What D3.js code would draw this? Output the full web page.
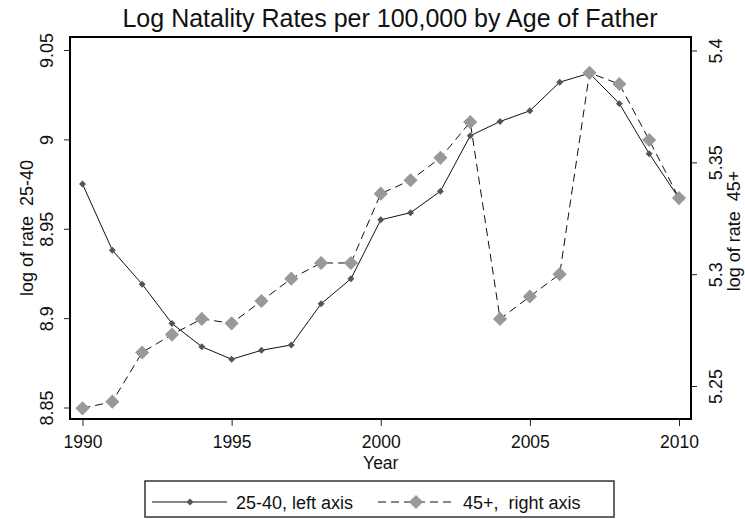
<!DOCTYPE html>
<html>
<head>
<meta charset="utf-8">
<script src="https://cdn.jsdelivr.net/npm/d3@7"></script>
<style>
  html, body { margin: 0; padding: 0; background: #fff; }
  svg { display: block; font-family: "Liberation Sans", Arial, sans-serif; }
  text { white-space: pre; fill: #111; }
</style>
</head>
<body>
<svg id="chart" width="745" height="519"></svg>
<script>
const years = [1990, 1991, 1992, 1993, 1994, 1995, 1996, 1997, 1998, 1999, 2000,
               2001, 2002, 2003, 2004, 2005, 2006, 2007, 2008, 2009, 2010];
const rate2540 = [8.975, 8.938, 8.919, 8.897, 8.884, 8.877, 8.882, 8.885, 8.908, 8.922, 8.955,
                  8.959, 8.971, 9.002, 9.010, 9.016, 9.032, 9.037, 9.020, 8.992, 8.967];
const rate45 = [5.240, 5.243, 5.265, 5.273, 5.280, 5.278, 5.288, 5.298, 5.305, 5.305, 5.336,
                5.342, 5.352, 5.368, 5.280, 5.290, 5.300, 5.390, 5.385, 5.360, 5.334];
const xTicks = [1990, 1995, 2000, 2005, 2010];
const leftTicks = [8.85, 8.9, 8.95, 9, 9.05];
const rightTicks = [5.25, 5.3, 5.35, 5.4];
const titleText = "Log Natality Rates per 100,000 by Age of Father";
const xTitle = "Year";
const leftTitle = "log of rate  25-40";
const rightTitle = "log of rate  45+";
const legendLabels = ["25-40, left axis", "45+,  right axis"];

const svg = d3.select("#chart");
const frame = {left: 70, right: 691, top: 37, bottom: 419};

const x = d3.scaleLinear().domain([1990, 2010]).range([82.5, 679]);
const yL = d3.scaleLinear().domain([8.85, 9.05]).range([407.5, 50]);
const yR = d3.scaleLinear().domain([5.25, 5.4]).range([386, 50.5]);

const fmt = d => String(+d.toFixed(2));

// Title
svg.append("text").attr("x", 390).attr("y", 27).attr("text-anchor", "middle")
  .attr("font-size", 25).text(titleText);

// Frame
svg.append("rect").attr("x", frame.left).attr("y", frame.top)
  .attr("width", frame.right - frame.left).attr("height", frame.bottom - frame.top)
  .attr("fill", "none").attr("stroke", "#000").attr("stroke-width", 2);

// Bottom axis
const gx = svg.append("g").attr("transform", `translate(0,${frame.bottom})`)
  .call(d3.axisBottom(x).tickValues(xTicks).tickFormat(d3.format("d")).tickSize(7).tickSizeOuter(0));
gx.select(".domain").remove();
gx.selectAll("line").attr("stroke", "#222");
gx.selectAll("text").attr("y", 29).attr("dy", null).attr("font-size", 17.5)
  .attr("font-family", null).attr("fill", "#111");

// Left axis
const gl = svg.append("g").attr("transform", `translate(${frame.left},0)`)
  .call(d3.axisLeft(yL).tickValues(leftTicks).tickFormat(fmt).tickSize(6).tickSizeOuter(0));
gl.select(".domain").remove();
gl.selectAll("line").attr("stroke", "#222");
gl.selectAll("text").attr("x", null).attr("dy", null).attr("text-anchor", "middle")
  .attr("transform", "translate(-17.5,0) rotate(-90)").attr("font-size", 18)
  .attr("fill", "#111");

// Right axis
const gr = svg.append("g").attr("transform", `translate(${frame.right},0)`)
  .call(d3.axisRight(yR).tickValues(rightTicks).tickFormat(fmt).tickSize(6).tickSizeOuter(0));
gr.select(".domain").remove();
gr.selectAll("line").attr("stroke", "#222");
gr.selectAll("text").attr("x", null).attr("dy", null).attr("text-anchor", "middle")
  .attr("transform", "translate(31,0) rotate(-90)").attr("font-size", 18)
  .attr("fill", "#111");

svg.selectAll(".tick text").attr("font-family", null);

// Axis titles
svg.append("text").attr("text-anchor", "middle").attr("font-size", 18)
  .attr("transform", `translate(33,${(frame.top + frame.bottom) / 2}) rotate(-90)`).text(leftTitle);
svg.append("text").attr("text-anchor", "middle").attr("font-size", 18)
  .attr("transform", `translate(740,${(frame.top + frame.bottom) / 2 + 3}) rotate(-90)`).text(rightTitle);
svg.append("text").attr("x", x(2000)).attr("y", 469).attr("text-anchor", "middle")
  .attr("font-size", 17.5).text(xTitle);

// Series
const d2540 = years.map((yr, i) => ({yr, v: rate2540[i]}));
const d45 = years.map((yr, i) => ({yr, v: rate45[i]}));

const smallDiamond = d3.symbol().type(d3.symbolSquare).size(24);
const bigDiamond = d3.symbol().type(d3.symbolSquare).size(100);

svg.append("path").datum(d2540)
  .attr("d", d3.line().x(d => x(d.yr)).y(d => yL(d.v)))
  .attr("fill", "none").attr("stroke", "#111").attr("stroke-width", 1);
svg.append("g").selectAll("path").data(d2540).join("path")
  .attr("d", smallDiamond)
  .attr("transform", d => `translate(${x(d.yr)},${yL(d.v)}) rotate(45)`)
  .attr("fill", "#555");

svg.append("path").datum(d45)
  .attr("d", d3.line().x(d => x(d.yr)).y(d => yR(d.v)))
  .attr("fill", "none").attr("stroke", "#111").attr("stroke-width", 1)
  .attr("stroke-dasharray", "8,5");
svg.append("g").selectAll("path").data(d45).join("path")
  .attr("d", bigDiamond)
  .attr("transform", d => `translate(${x(d.yr)},${yR(d.v)}) rotate(45)`)
  .attr("fill", "#999");

// Legend
const lg = svg.append("g");
lg.append("rect").attr("x", 145).attr("y", 481).attr("width", 469).attr("height", 36)
  .attr("fill", "#fff").attr("stroke", "#333").attr("stroke-width", 1.5);
const ly = 502;
lg.append("line").attr("x1", 152).attr("x2", 227).attr("y1", ly).attr("y2", ly)
  .attr("stroke", "#111").attr("stroke-width", 1);
lg.append("path").attr("d", smallDiamond).attr("transform", `translate(190,${ly}) rotate(45)`)
  .attr("fill", "#555");
lg.append("text").attr("x", 236).attr("y", ly + 7).attr("font-size", 18).text(legendLabels[0]);
lg.append("line").attr("x1", 378).attr("x2", 455).attr("y1", ly).attr("y2", ly)
  .attr("stroke", "#111").attr("stroke-width", 1).attr("stroke-dasharray", "8,5");
lg.append("path").attr("d", bigDiamond).attr("transform", `translate(416,${ly}) rotate(45)`)
  .attr("fill", "#999");
lg.append("text").attr("x", 463).attr("y", ly + 7).attr("font-size", 18).text(legendLabels[1]);
</script>
</body>
</html>
